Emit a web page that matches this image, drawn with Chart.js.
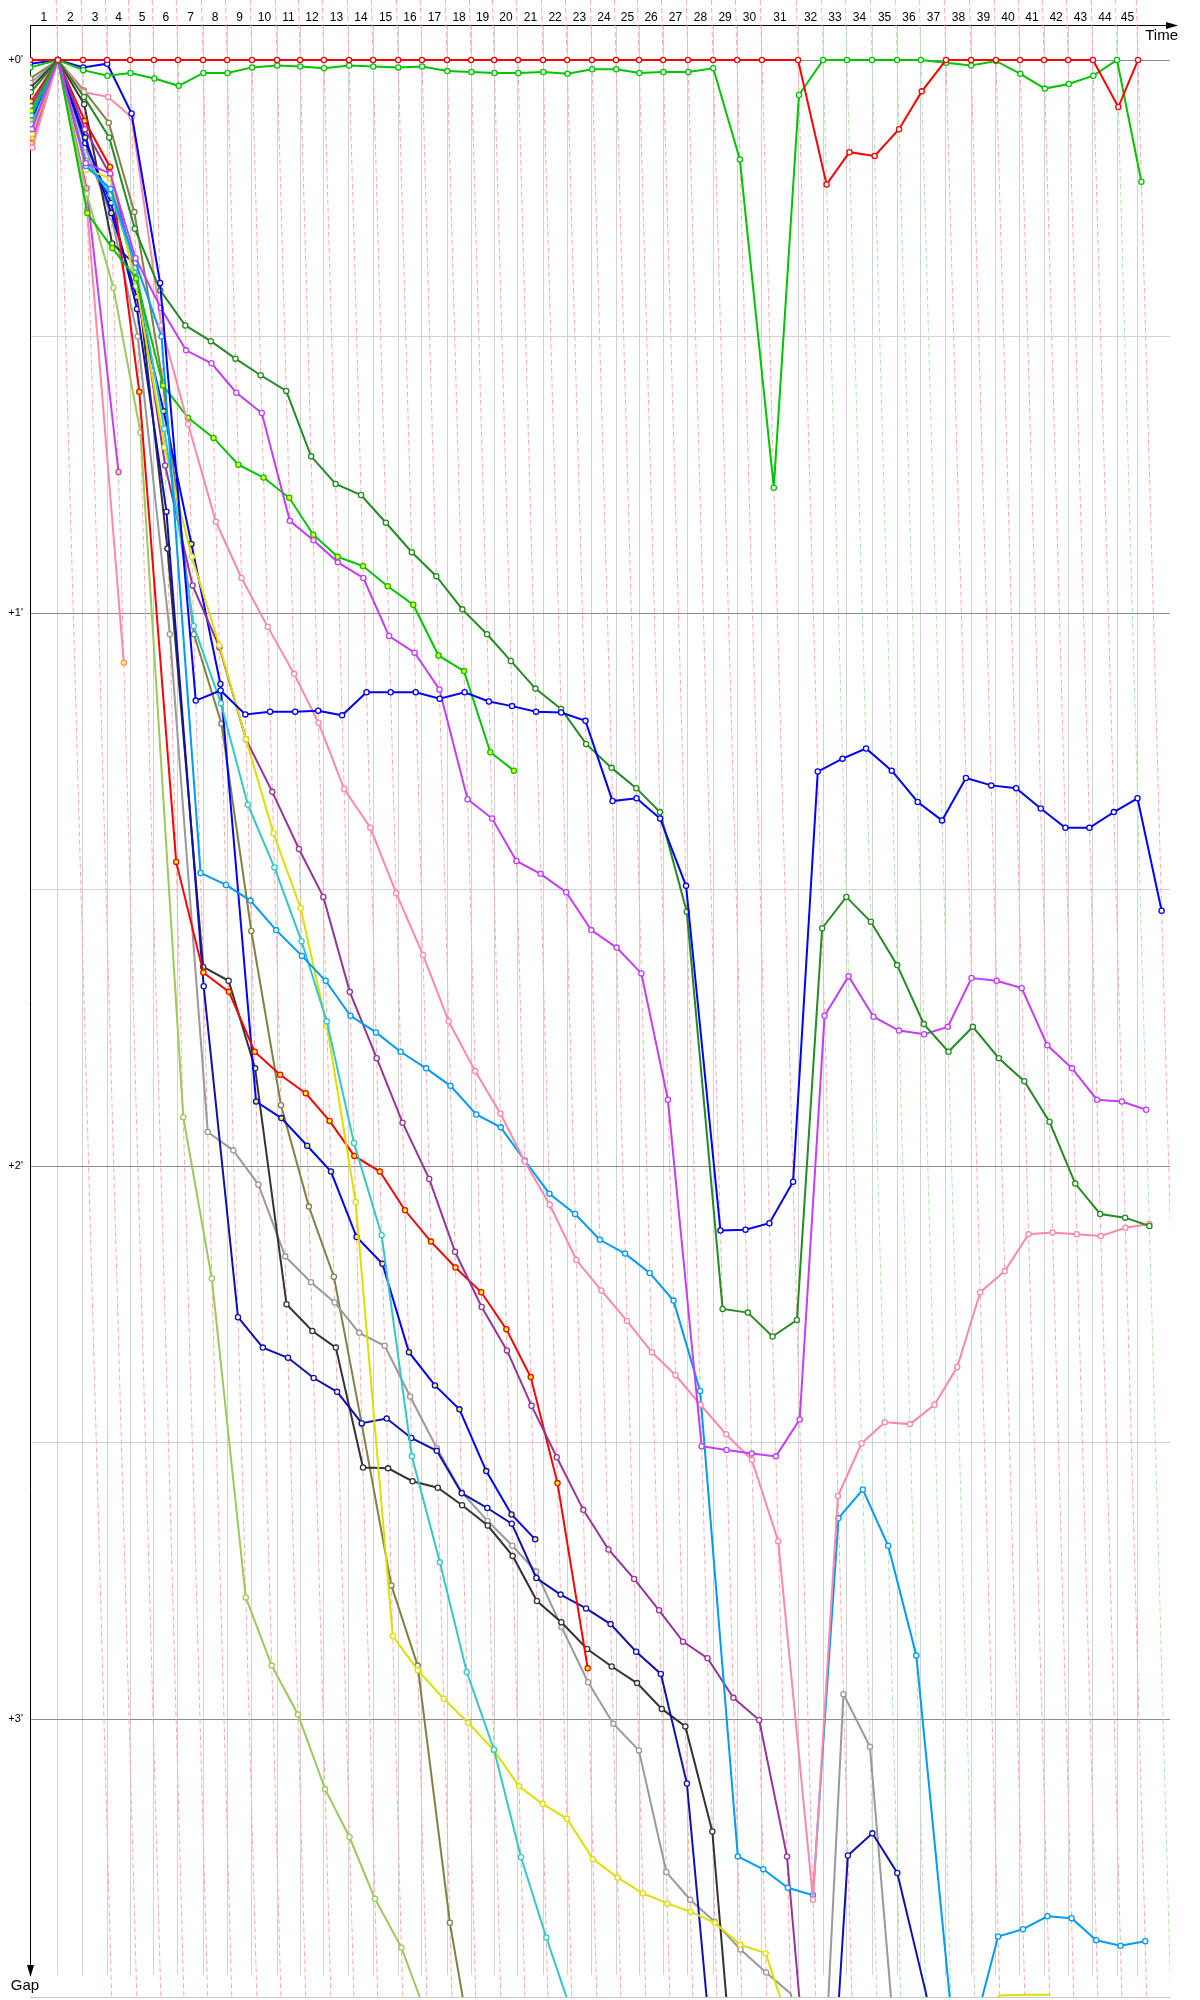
<!DOCTYPE html>
<html>
<head>
<meta charset="utf-8">
<title>Race gap chart</title>
<script src="https://cdn.jsdelivr.net/npm/chart.js@4.4.1/dist/chart.umd.min.js"></script>
<style>
  html, body { margin: 0; padding: 0; background: #fff; }
  #wrap { position: relative; width: 1200px; height: 2000px; }
</style>
</head>
<body>
<div id="wrap"><canvas id="gapChart"></canvas></div>
<script>
// ==========================================
// 1. DATA
// ==========================================
// Leader crossing time (s) at the end of each lap, index 0 = start
const lapTimes = [0, 109, 207, 301, 391, 484, 578, 676, 770, 867, 965, 1055, 1148, 1246, 1340, 1438,
  1531, 1629, 1723, 1813, 1906, 2004, 2098, 2195, 2289, 2379, 2473, 2570, 2668, 2762, 2859,
  3000, 3098, 3191, 3289, 3387, 3480, 3578, 3676, 3773, 3867, 3961, 4055, 4152, 4246, 4328];

const lapNumbers = ['1', '2', '3', '4', '5', '6', '7', '8', '9', '10', '11', '12', '13', '14', '15',
  '16', '17', '18', '19', '20', '21', '22', '23', '24', '25', '26', '27', '28', '29', '30',
  '31', '32', '33', '34', '35', '36', '37', '38', '39', '40', '41', '42', '43', '44', '45'];

const gapTicks = [0, 30, 60, 90, 120, 150, 180];
const gapTickLabels = ["+0'", '', "+1'", '', "+2'", '', "+3'"];

// Gap to the leader (s) per lap, index = lap
const gapRed = [0, 0, 0, 0, 0, 0, 0, 0, 0, 0, 0, 0, 0, 0, 0, 0, 0, 0, 0, 0, 0, 0, 0, 0, 0, 0, 0, 0, 0, 0, 0, 0,
  13.5, 10.0, 10.4, 7.5, 3.4, 0, 0, 0, 0, 0, 0, 0, 5.1, 0];
const gapGreen = [0.8, 0, 1.1, 1.7, 1.4, 2.0, 2.8, 1.4, 1.4, 0.8, 0.6, 0.7, 0.9, 0.6, 0.7, 0.8, 0.7, 1.2, 1.3, 1.4,
  1.4, 1.3, 1.5, 1.0, 1.0, 1.4, 1.3, 1.3, 0.9, 10.8, 46.4, 3.8, 0, 0, 0, 0, 0, 0.3, 0.6, 0.1, 1.5, 3.1, 2.6, 1.7, 0, 13.2];
const gapBlue = [0.4, 0, 0.8, 0.4, 5.8, 24.2, 69.5, 68.4, 71.0, 70.7, 70.7, 70.6, 71.1, 68.6, 68.6, 68.6, 69.3, 68.6,
  69.6, 70.1, 70.7, 70.8, 71.7, 80.4, 80.1, 82.3, 89.6, 127, 126.9, 126.2, 121.7, 77.2, 75.8, 74.7, 77.1, 80.5, 82.5,
  77.9, 78.7, 79.0, 81.2, 83.3, 83.3, 81.6, 80.1, 92.3];
const gapForest = [3.5, 0, 4.0, 8.4, 18.3, 25, 28.8, 30.5, 32.4, 34.2, 35.9, 43, 46, 47.2, 50.2, 53.4, 56.0, 59.6, 62.3,
  65.2, 68.2, 70.4, 74.2, 76.8, 79, 81.6, 92.4, 135.5, 135.9, 138.5, 136.7, 94.2, 90.8, 93.5, 98.2, 104.6, 107.6, 104.9,
  108.3, 110.8, 115.2, 121.9, 125.2, 125.6, 126.5];
const gapPink = [9.5, 0, 3.5, 4.0, 6.2, 28.8, 39.5, 50.1, 56.2, 61.5, 66.6, 71.9, 79.1, 83.3, 90.4, 97.1, 104.3, 109.7,
  114.3, 119.5, 124.2, 130.2, 133.5, 136.8, 140.2, 142.7, 145.9, 149.1, 151.9, 160.7, 199.6, 155.8, 150.1, 147.8, 148,
  145.9, 141.8, 133.7, 131.4, 127.4, 127.2, 127.4, 127.6, 126.7, 126.3];
const gapViolet = [7.5, 0, 11.2, 12.3, 21.5, 26.9, 31.5, 32.9, 36.1, 38.3, 50, 52.1, 54.5, 56.2, 62.5, 64.3, 68.3, 80.2,
  82.3, 86.9, 88.3, 90.3, 94.4, 96.3, 99.1, 112.8, 150.4, 150.8, 151.2, 151.5, 147.5, 103.7, 99.4, 103.8, 105.3, 105.7,
  104.9, 99.6, 99.9, 100.7, 106.9, 109.4, 112.8, 113.0, 113.9];
const gapViolet2 = [8.5, 0, 13.9, 44.7];
const gapPink2 = [9.0, 0, 16.2, 65.4];
const gapGreen2 = [5.5, 0, 16.6, 20.4, 23.7, 35.3, 38.8, 41, 43.9, 45.3, 47.5, 51.5, 53.9, 54.9, 57.1, 59.1, 64.6, 66.3,
  75.1, 77.1];
const gapRed2 = [4.5, 0, 6.6, 11.6, 36.0, 87.0, 99, 101.1, 107.6, 110.1, 112.1, 115.1, 118.9, 120.6, 124.8, 128.2, 131,
  133.7, 137.7, 142.9, 154.4, 174.5];
const gapBlue2 = [6.5, 0, 8.4, 16.6, 25.7, 38.1, 52.5, 67.7, 113, 114.8, 117.8, 120.6, 127.7, 130.6, 140.2, 143.8, 146.4,
  153.1, 157.8, 160.5];
const gapSky = [6.0, 0, 11.5, 14, 22, 30, 88.2, 89.5, 91.2, 94.4, 97.2, 99.9, 103.7, 105.5, 107.6, 109.4, 111.3, 114.4,
  115.8, 119.4, 123, 125.2, 128, 129.5, 131.6, 134.6, 144.4, 194.9, 196.3, 198.3, 199.1, 158.2, 155.1, 161.2, 173.1,
  212, 213, 203.6, 202.8, 201.4, 201.6, 204, 204.6, 204.1];
const gapTurquoise = [7.0, 0, 10.9, 14.6, 22.5, 40, 61.4, 69.8, 80.8, 87.6, 95.6, 104.3, 117.5, 127.5, 151.5, 163, 174.9,
  183.3, 195, 203.7, 212];
const gapYellow = [8.0, 0, 11.9, 12.8, 24.5, 42, 53.9, 63.5, 73.7, 83.9, 92, 104.8, 123.9, 171, 174.7, 177.8, 180.4,
  183.4, 187.3, 189.2, 190.8, 195.2, 197.2, 198.9, 200, 200.9, 202.1, 204.5, 205.4, 214, 222, 226, 224, 221, 218, 215,
  212.5, 210.0, 209.9, 209.9];
const gapPurple = [5.0, 0, 7.5, 12.5, 23, 44, 57, 63.7, 73.7, 79.4, 85.6, 90.8, 101.1, 108.3, 115.3, 121.4, 129.3, 135.3,
  140, 146, 151.6, 157.3, 161.6, 164.8, 168.2, 171.6, 173.4, 177.7, 180.1, 194.9, 240];
const gapGrey = [2.5, 0, 9.5, 17, 30, 62.3, 116.3, 118.3, 122, 129.8, 132.6, 134.8, 138.1, 139.5, 145, 150.6, 155.4,
  158.5, 161.2, 164, 170, 176, 180.5, 183.4, 196.6, 199.6, 202, 205, 207.5, 209.8, 228, 177.3, 183, 229];
const gapBlack = [3.0, 0, 4.8, 19.9, 22.2, 53, 98.4, 99.9, 109.4, 135, 137.9, 139.7, 152.7, 152.8, 154.2, 154.9, 156.8,
  159, 162.3, 167.2, 169.5, 172.4, 174.3, 176.1, 178.9, 180.8, 192.2, 240];
const gapNavy = [7.8, 0, 9.0, 15.5, 27, 49, 100.5, 136.4, 139.7, 140.8, 143, 144.5, 147.9, 147.4, 149.5, 150.9, 155.5,
  157.1, 158.8, 164.7, 166.5, 168, 169.7, 172.7, 175.1, 187, 227.6, 230, 232, 235, 238, 194.8, 192.4, 196.7, 209.6, 225];
const gapOlive = [2.0, 0, 3.3, 6.8, 16.5, 35, 62.3, 72, 94.5, 113.4, 124.4, 132, 148, 165.5, 174.2, 202.1, 220];
const gapLime = [6.8, 0, 14.5, 24.7, 40.4, 114.7, 132.2, 166.8, 174.2, 179.5, 187.6, 192.8, 199.5, 204.8, 212.4];

// ==========================================
// 2. CONFIGURATION
// ==========================================
const X_MAX = 4453;          // seconds across the plot width
const Y_MIN = -3.8;          // gap at the top edge
const Y_MAX = 207.77;        // gap at the bottom edge
const ISO_TOP = -6.52;       // isochrone lines start above the axis
const ISO_BOTTOM = 210.3;    // ... and run to the bottom frame
const FONT = '"Liberation Sans", Arial, sans-serif';

// Drawing order: first entry ends up on top
const series = [
  { gaps: gapRed, color: '#ff0000', fill: '#ffffff' },
  { gaps: gapGreen, color: '#00c400', fill: '#ffffff' },
  { gaps: gapBlue, color: '#0000ff', fill: '#ffffff' },
  { gaps: gapForest, color: '#228b22', fill: '#ffffff' },
  { gaps: gapViolet, color: '#c43cff', fill: '#ffffff' },
  { gaps: gapPink, color: '#ff88aa', fill: '#ffffff' },
  { gaps: gapGreen2, color: '#00c400', fill: '#ffff00' },
  { gaps: gapSky, color: '#0099ff', fill: '#ffffff' },
  { gaps: gapTurquoise, color: '#33c8c8', fill: '#ffffff' },
  { gaps: gapYellow, color: '#dede00', fill: '#ffffff' },
  { gaps: gapPurple, color: '#993399', fill: '#ffffff' },
  { gaps: gapRed2, color: '#ff0000', fill: '#ffff00' },
  { gaps: gapBlue2, color: '#0000ff', fill: '#ffff00' },
  { gaps: gapNavy, color: '#1010b0', fill: '#ffffff' },
  { gaps: gapBlack, color: '#333333', fill: '#ffffff' },
  { gaps: gapGrey, color: '#999999', fill: '#ffffff' },
  { gaps: gapOlive, color: '#808048', fill: '#ffffff' },
  { gaps: gapLime, color: '#9cc85c', fill: '#ffffff' },
  { gaps: gapViolet2, color: '#c43cff', fill: '#ffff00' },
  { gaps: gapPink2, color: '#ff88aa', fill: '#ffff00' }
];

Chart.defaults.font.family = FONT;

// A car's point sits on the isochrone of its lap: time = leader time + gap
function toPoints(gaps) {
  return gaps.map((g, lap) => ({ x: lapTimes[lap] + g, y: g }));
}

const seriesDatasets = series.map(s => ({
  data: toPoints(s.gaps),
  borderColor: s.color,
  borderWidth: 2,
  pointRadius: 2.6,
  pointHoverRadius: 2.6,
  pointBorderWidth: 1.3,
  pointBorderColor: s.color,
  pointBackgroundColor: s.fill,
  tension: 0,
  clip: { left: 0, top: 0, right: 0, bottom: 22 }
}));

// Isochrone line for each lap, tinted by who led that lap
const isoDatasets = lapTimes.slice(1).map((t, i) => {
  const lap = i + 1;
  const greenLeads = gapGreen[lap] === 0 && gapRed[lap] !== 0;
  return {
    data: [{ x: t + ISO_TOP, y: ISO_TOP }, { x: t + ISO_BOTTOM, y: ISO_BOTTOM }],
    borderColor: greenLeads ? '#a8eaa8' : '#ffaaaa',
    borderWidth: 1,
    borderDash: [5, 3],
    pointRadius: 0,
    clip: { left: 0, top: 25, right: 0, bottom: 22 }
  };
});

// ==========================================
// 3. AXIS DECORATION
// ==========================================
const axisArrows = {
  id: 'axisArrows',
  afterDraw(chart) {
    const { ctx, chartArea: a } = chart;
    ctx.save();
    ctx.strokeStyle = '#000';
    ctx.fillStyle = '#000';
    ctx.lineWidth = 1;

    // Time arrow
    ctx.beginPath();
    ctx.moveTo(a.right, a.top + 0.5);
    ctx.lineTo(a.right + 4, a.top + 0.5);
    ctx.stroke();
    ctx.beginPath();
    ctx.moveTo(a.right + 8, a.top + 0.5);
    ctx.lineTo(a.right - 4, a.top - 3);
    ctx.lineTo(a.right - 4, a.top + 4);
    ctx.closePath();
    ctx.fill();

    // Gap arrow
    ctx.beginPath();
    ctx.moveTo(a.left + 0.5, a.bottom + 2);
    ctx.lineTo(a.left - 3, a.bottom - 10);
    ctx.lineTo(a.left + 4, a.bottom - 10);
    ctx.closePath();
    ctx.fill();

    ctx.font = '15px ' + FONT;
    ctx.textBaseline = 'middle';
    ctx.textAlign = 'right';
    ctx.fillText('Time', a.right + 8, a.top + 11);
    ctx.textAlign = 'center';
    ctx.fillText('Gap', a.left - 5, a.bottom + 11);

    // Bottom frame
    ctx.strokeStyle = '#c8c8c8';
    ctx.beginPath();
    ctx.moveTo(a.left, a.bottom + 22.5);
    ctx.lineTo(a.right, a.bottom + 22.5);
    ctx.stroke();
    ctx.restore();
  }
};

// ==========================================
// 4. CHART
// ==========================================
new Chart(document.getElementById('gapChart'), {
  type: 'line',
  data: { datasets: [...seriesDatasets, ...isoDatasets] },
  plugins: [axisArrows],
  options: {
    responsive: true,
    maintainAspectRatio: false,
    animation: false,
    events: [],
    layout: { padding: { left: 0, top: 0, right: 30, bottom: 25 } },
    plugins: { legend: { display: false }, tooltip: { enabled: false } },
    scales: {
      x: {
        type: 'linear',
        position: 'top',
        min: 0,
        max: X_MAX,
        afterBuildTicks(scale) {
          const ticks = lapTimes.map(t => ({ value: t, major: true }));
          lapNumbers.forEach((label, i) => {
            ticks.push({ value: (lapTimes[i] + lapTimes[i + 1]) / 2, lap: label });
          });
          scale.ticks = ticks.sort((p, q) => p.value - q.value);
        },
        afterFit(scale) {
          scale.height = 25;
          scale.paddingLeft = 0;
          scale.paddingRight = 0;
        },
        ticks: {
          autoSkip: false,
          maxRotation: 0,
          minRotation: 0,
          padding: 0,
          color: '#000',
          font: { size: 12 },
          callback: (value, index, ticks) => ticks[index].lap || ''
        },
        grid: {
          drawTicks: false,
          color: ctx => (ctx.tick && ctx.tick.major ? '#d2d2d2' : 'rgba(0,0,0,0)'),
          lineWidth: 1
        },
        border: { display: true, color: '#000', width: 1 }
      },
      y: {
        type: 'linear',
        position: 'left',
        reverse: true,
        min: Y_MIN,
        max: Y_MAX,
        afterBuildTicks(scale) {
          scale.ticks = gapTicks.map(v => ({ value: v }));
        },
        afterFit(scale) {
          scale.width = 30;
          scale.paddingTop = 0;
          scale.paddingBottom = 0;
        },
        ticks: {
          padding: 7,
          color: '#000',
          font: { size: 11 },
          callback: (value, index) => gapTickLabels[index]
        },
        grid: {
          drawTicks: false,
          color: ctx => (ctx.tick && gapTickLabels[gapTicks.indexOf(ctx.tick.value)] ? '#8c8c8c' : '#d2d2d2'),
          lineWidth: 1
        },
        border: { display: true, color: '#000', width: 1 }
      }
    }
  }
});
</script>
</body>
</html>
